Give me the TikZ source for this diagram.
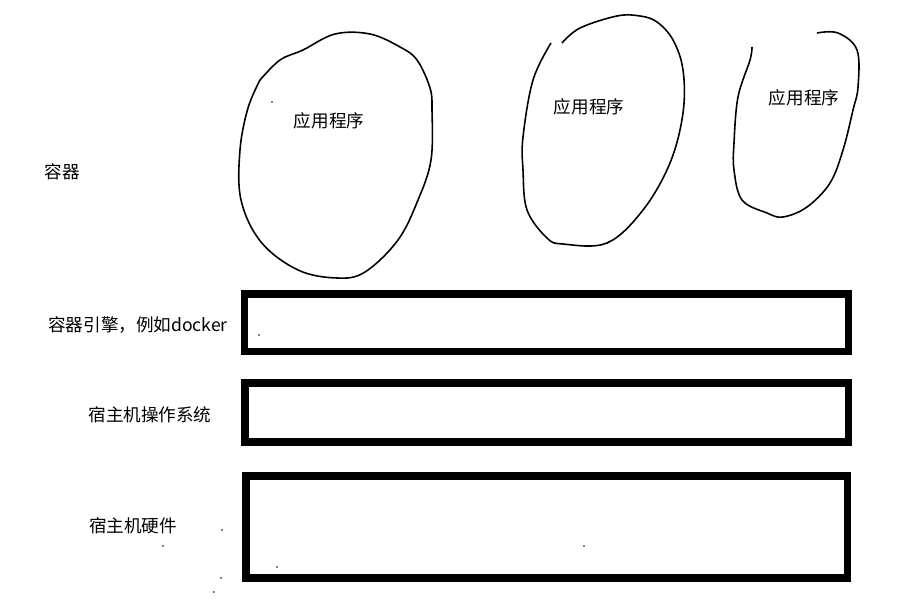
\documentclass[tikz,border=0pt]{standalone}
\usepackage{fontspec}
\setmainfont{Noto Sans CJK SC}
\begin{document}
\begin{tikzpicture}[
        x=0.02cm, y=-0.02cm,
        camada/.style={draw=black, line width=4pt},
        bolha/.style={draw=black, line width=0.9pt, smooth, tension=0.6},
        rotulo/.style={font=\fontsize{10}{12}\selectfont, inner sep=0pt},
        ponto/.style={fill=black},
    ]
    \useasboundingbox (0,0) rectangle (918,601);

    % bolhas dos aplicativos
    \draw[bolha] plot coordinates {(260,80) (280,60) (303,50) (335,34) (370,34)
        (400,47) (417,60) (430,88) (432,110) (431,160) (418,200) (398,240)
        (365,272) (337,278) (298,270) (261,242) (241,200) (240,150) (248,108) (260,80)};
    \draw[bolha] plot coordinates {(562,43) (580,28) (617,16) (640,16) (657,22)
        (673,40) (683,70) (683,113) (670,163) (643,210) (607,243) (563,244)
        (547,238) (527,210) (523,170) (523,137) (533,80) (551,43)};
    \draw[bolha] plot coordinates {(817,33) (838,33) (857,50) (858,87) (853,110)
        (843,150) (830,183) (807,207) (783,217) (767,213) (742,200) (734,170)
        (734,143) (738,97) (750,60) (752,47)};

    \node[rotulo] (app1) at (329,121) {应用程序};
    \node[rotulo] (app2) at (589,107) {应用程序};
    \node[rotulo] (app3) at (804,98) {应用程序};
    \node[rotulo] (container) at (62,172) {容器};

    % camadas
    \draw[camada] (244.5,294) rectangle (848.5,351.5);
    \draw[camada] (245,383) rectangle (848,442);
    \draw[camada] (246,476) rectangle (847,578);

    \node[rotulo] (motor) at (138,325) {容器引擎，例如docker};
    \node[rotulo] (so) at (150,415) {宿主机操作系统};
    \node[rotulo] (hw) at (133,526) {宿主机硬件};

    % pontinhos
    \foreach \p in {(272,102), (259,335), (222,530), (163,546), (584,546),
                    (277,567), (221,578), (214,592)}
        \fill[ponto] \p circle (0.8);

\end{tikzpicture}
\end{document}
